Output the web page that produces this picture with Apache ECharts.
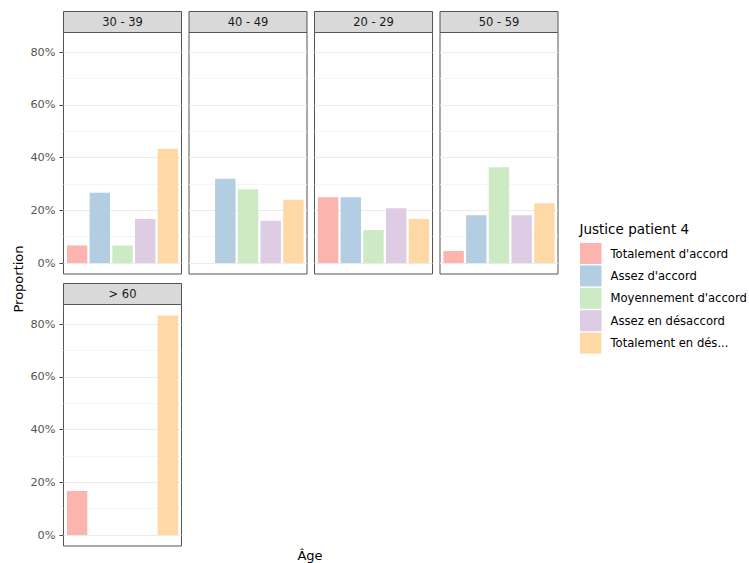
<!DOCTYPE html>
<html><head><meta charset="utf-8">
<script src="https://cdn.jsdelivr.net/npm/echarts@6/dist/echarts.min.js"></script>
<style>html,body{margin:0;padding:0;background:#fff}#c{width:749px;height:563px}</style>
</head><body><div id="c"></div><script>
// ---- data ----
const panels = ['30 - 39', '40 - 49', '20 - 29', '50 - 59', '> 60'];
const categories = ["Totalement d'accord", "Assez d'accord", "Moyennement d'accord", "Assez en désaccord", "Totalement en dés..."];
const v3039 = [6.67, 26.67, 6.67, 16.67, 43.33];
const v4049 = [null, 32, 28, 16, 24];
const v2029 = [25, 25, 12.5, 20.83, 16.67];
const v5059 = [4.55, 18.18, 36.36, 18.18, 22.73];
const vOver60 = [16.67, null, null, null, 83.33];
const panelValues = [v3039, v4049, v2029, v5059, vOver60];
const yTicks = [0, 20, 40, 60, 80];
const yMinor = [10, 30, 50, 70];
const legendTitle = 'Justice patient 4';
const yTitle = 'Proportion';
const xTitle = 'Âge';

// ---- style / layout ----
const colors = ['#FBB4AE', '#B3CDE3', '#CCEBC5', '#DECBE4', '#FED9A6'];
const FONT = 'DejaVu Sans';
const panelLeft = [63.5, 189, 314.5, 440, 63.5];
const panelTop = [32.5, 32.5, 32.5, 32.5, 304.5];
const panelW = 118, panelH = 241.5, stripH = 21;
const yMin = -4.1667, yMax = 87.5;

const grids = [], xAxes = [], yAxes = [], series = [], graphics = [];
panels.forEach((p, i) => {
  grids.push({left: panelLeft[i], top: panelTop[i], width: panelW, height: panelH,
    show: true, backgroundColor: '#fff', borderColor: '#555', borderWidth: 1, containLabel: false});
  xAxes.push({gridIndex: i, type: 'value', min: 0.4, max: 5.6, show: false});
  const showY = (i === 0 || i === 4);
  yAxes.push({gridIndex: i, type: 'value', min: yMin, max: yMax,
    axisLine: {show: false},
    splitLine: {show: false},
    axisTick: {show: showY, length: 4, lineStyle: {color: '#444'}, customValues: yTicks},
    axisLabel: {show: showY, customValues: yTicks, formatter: v => Math.round(v) + '%',
      color: '#555', fontSize: 11.3, fontFamily: FONT, margin: 8}
  });
  // gridlines
  series.push({type: 'line', name: 'grid' + i, xAxisIndex: i, yAxisIndex: i, data: [], z: 1, silent: true,
    markLine: {silent: true, z: 1, symbol: ['none', 'none'], label: {show: false}, animation: false,
      data: yTicks.map(v => ({yAxis: v, lineStyle: {color: '#EBEBEB', width: 1.1, type: 'solid'}}))
        .concat(yMinor.map(v => ({yAxis: v, lineStyle: {color: '#F3F3F3', width: 0.8, type: 'solid'}})))
    }});
  categories.forEach((c, k) => {
    const v = panelValues[i][k];
    series.push({type: 'bar', name: c, xAxisIndex: i, yAxisIndex: i, z: 3,
      barWidth: 20.4, barGap: '-100%',
      itemStyle: {color: colors[k]},
      data: v == null ? [] : [[k + 1, v]]});
  });
  // strip
  graphics.push({type: 'rect', shape: {x: panelLeft[i], y: panelTop[i] - stripH, width: panelW, height: stripH},
    style: {fill: '#D9D9D9', stroke: '#555', lineWidth: 1}});
  graphics.push({type: 'text', x: panelLeft[i] + panelW / 2, y: panelTop[i] - stripH / 2,
    style: {text: p, fill: '#1A1A1A', fontSize: 11.5, fontFamily: FONT, align: 'center', verticalAlign: 'middle'}});
});
graphics.push({type: 'text', x: 18, y: 279, rotation: Math.PI / 2,
  style: {text: yTitle, fill: '#000', fontSize: 13, fontFamily: FONT, align: 'center', verticalAlign: 'middle'}});
graphics.push({type: 'text', x: 310, y: 555,
  style: {text: xTitle, fill: '#000', fontSize: 13, fontFamily: FONT, align: 'center', verticalAlign: 'middle'}});
graphics.push({type: 'text', x: 579.5, y: 229,
  style: {text: legendTitle, fill: '#000', fontSize: 13.5, fontFamily: FONT, align: 'left', verticalAlign: 'middle'}});

const chart = echarts.init(document.getElementById('c'), null, {renderer: 'svg'});
chart.setOption({
  animation: false,
  backgroundColor: '#fff',
  grid: grids, xAxis: xAxes, yAxis: yAxes, series: series,
  legend: {data: categories.map(c => ({name: c, icon: 'rect'})), orient: 'vertical', left: 580, top: 243,
    itemWidth: 21.5, itemHeight: 21, itemGap: 1.4, padding: 0, selectedMode: false,
    textStyle: {fontSize: 11.6, fontFamily: FONT, color: '#000', padding: [0, 0, 0, 4]}},
  graphic: graphics
});
</script></body></html>
